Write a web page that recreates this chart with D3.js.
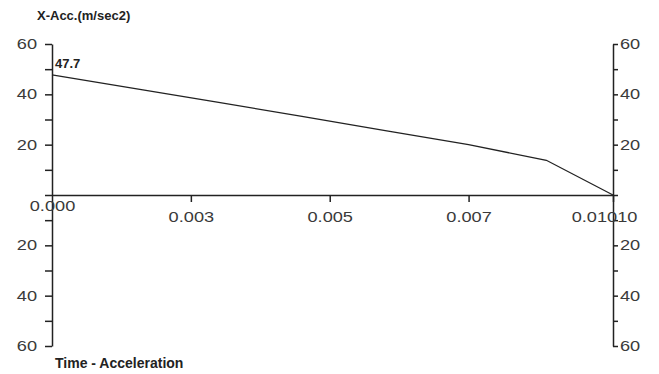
<!DOCTYPE html>
<html>
<head>
<meta charset="utf-8">
<script src="https://cdn.jsdelivr.net/npm/d3@7"></script>
<style>
  body { margin: 0; background: #fff; }
  svg { display: block; }
  .axis text { font-family: "Liberation Sans", Arial, sans-serif; font-size: 14px; fill: #3a3a3a; }
  .axis path, .axis line { stroke: #222; stroke-width: 1.5; }
</style>
</head>
<body>
<div id="chart"></div>
<script>
// time (s) and x-acceleration (m/sec2)
const times = [0, 0.0015, 0.003, 0.0045, 0.006, 0.0075, 0.0089, 0.0101]
const accel = [47.7, 42.3, 36.8, 31.2, 25.6, 20.0, 13.8, 0]
const xTicks = [0, 0.0025, 0.005, 0.0075, 0.0101]
const xTickLabels = ["0.000", "0.003", "0.005", "0.007", "0.01010"]
const yTicks = [-60, -50, -40, -30, -20, -10, 0, 10, 20, 30, 40, 50, 60]
const peakLabel = "47.7"

const width = 659
const height = 374
const margin = { top: 44, bottom: 28, left: 52, right: 46 }
const stretch = 1.3 // tick labels in the picture are drawn wide

const svg = d3.select('#chart').append('svg')
    .attr('width', width)
    .attr('height', height)

const x = d3.scaleLinear()
    .domain([0, 0.0101])
    .range([margin.left, width - margin.right])

const y = d3.scaleLinear()
    .domain([-60, 60])
    .range([height - margin.bottom, margin.top])

// widen the labels around their anchor point
const widen = (g) => {
    g.selectAll(".tick text").each(function () {
        const t = d3.select(this)
        const tx = +t.attr("x") || 0
        t.attr("x", tx / stretch).attr("transform", `scale(${stretch},1)`)
    })
}

// only every second tick has a label, lower half shows absolute values, 0 is left blank
const yFmt = d => (d % 20 === 0 && d !== 0) ? Math.abs(d) : ""

svg.append("g").attr("class", "axis")
    .attr("transform", `translate(${margin.left},0)`)
    .call(d3.axisLeft(y).tickValues(yTicks).tickSize(7).tickPadding(8).tickSizeOuter(0).tickFormat(yFmt))
    .call(widen)

svg.append("g").attr("class", "axis")
    .attr("transform", `translate(${width - margin.right},0)`)
    .call(d3.axisRight(y).tickValues(yTicks).tickSize(5).tickPadding(2).tickSizeOuter(0).tickFormat(yFmt))
    .call(widen)

const xAxis = svg.append("g").attr("class", "axis")
    .attr("transform", `translate(0,${y(0)})`)
    .call(d3.axisBottom(x).tickValues(xTicks).tickSize(7).tickSizeOuter(0)
        .tickFormat((d, i) => xTickLabels[i]))

xAxis.selectAll(".tick text").attr("dy", "1.2em")
// first label sits higher, last one is shifted left
xAxis.selectAll(".tick text").filter((d, i) => i === 0).attr("dy", "0.45em")
xAxis.selectAll(".tick text").filter((d, i) => i === xTicks.length - 1).attr("x", -9)
xAxis.call(widen)
xAxis.selectAll(".tick line").filter((d, i) => i === 0).remove()
xAxis.selectAll(".tick line").filter((d, i) => i === xTicks.length - 1)
    .attr("y1", -5).attr("y2", 8).attr("stroke-width", 3)

const line = d3.line()
    .x((d, i) => x(times[i]))
    .y(d => y(d))

svg.append("path")
    .datum(accel)
    .attr("fill", "none")
    .attr("stroke", "#222")
    .attr("stroke-width", 1.3)
    .attr("d", line)

svg.append("text")
    .attr("x", x(0) + 3)
    .attr("y", y(accel[0]) - 7)
    .attr("font-family", "Liberation Sans, Arial, sans-serif")
    .attr("font-weight", "bold")
    .attr("font-size", 13)
    .attr("fill", "#222")
    .text(peakLabel)

svg.append("text")
    .attr("x", 37)
    .attr("y", 20)
    .attr("font-family", "Liberation Sans, Arial, sans-serif")
    .attr("font-weight", "bold")
    .attr("font-size", 13)
    .attr("fill", "#222")
    .text("X-Acc.(m/sec2)")

svg.append("text")
    .attr("x", 55)
    .attr("y", 368)
    .attr("font-family", "Liberation Sans, Arial, sans-serif")
    .attr("font-weight", "bold")
    .attr("font-size", 14)
    .attr("fill", "#222")
    .text("Time - Acceleration")
</script>
</body>
</html>
